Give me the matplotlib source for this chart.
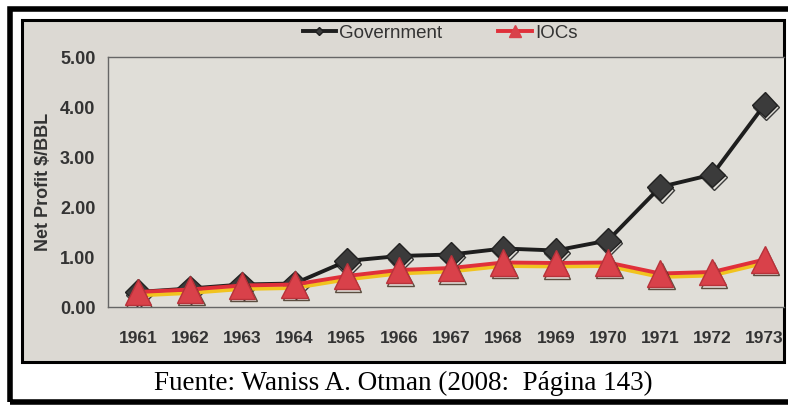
import matplotlib
matplotlib.use('Agg')
import matplotlib.pyplot as plt
import matplotlib.patheffects as pe
from matplotlib.patches import Rectangle
from matplotlib.lines import Line2D

# data
years = ['1961', '1962', '1963', '1964', '1965', '1966', '1967',
         '1968', '1969', '1970', '1971', '1972', '1973']
government = [0.30, 0.37, 0.45, 0.47, 0.92, 1.02, 1.05, 1.17, 1.13, 1.33, 2.40, 2.65, 4.05]
iocs = [0.30, 0.35, 0.43, 0.45, 0.62, 0.74, 0.78, 0.89, 0.88, 0.89, 0.67, 0.70, 0.95]
y_ticks = [0, 1, 2, 3, 4, 5]

W, H = 788, 407
fig = plt.figure(figsize=(W / 100, H / 100), dpi=100)
fig.patch.set_facecolor('white')

# outer border and inner grey frame (behind the axes)
fig.patches.append(Rectangle((10 / W, 1 - 402 / H), 790 / W, 393 / H, transform=fig.transFigure,
                             fill=False, edgecolor='black', linewidth=4, zorder=-10))
fig.patches.append(Rectangle((22 / W, 1 - 362 / H), 762 / W, 342 / H, transform=fig.transFigure,
                             facecolor='#dcd9d3', edgecolor='black', linewidth=2.2, zorder=-9))

ax = fig.add_axes([108 / W, 1 - 307 / H, 676 / W, 250 / H])
ax.set_facecolor('#e0ded8')
x = list(range(len(years)))

# Government
ax.plot(x, government, color='#1e1e1e', linewidth=2.8, zorder=2)
ax.plot(x, government, linestyle='none', marker='D', markersize=13, color='#3b3b3b',
        markeredgecolor='#222222', zorder=3,
        path_effects=[pe.SimpleLineShadow(offset=(1, -2), shadow_color='#111111', alpha=0.8),
                      pe.Normal()])

# IOCs
ax.plot(x, iocs, color='#e0303a', linewidth=2.8, zorder=4,
        path_effects=[pe.SimpleLineShadow(offset=(0, -2.5), shadow_color='#f1c31e', alpha=1),
                      pe.Normal()])
ax.plot(x, iocs, linestyle='none', marker='^', markersize=19, color='#d9414a',
        markeredgecolor='#b8323a', zorder=5,
        path_effects=[pe.SimpleLineShadow(offset=(1, -2), shadow_color='#3a2a1a', alpha=0.8),
                      pe.Normal()])

# 1961 at x=138px, 1973 at x=765px
ax.set_xlim(-0.57, 12.37)
ax.set_ylim(0, 5)
ax.set_xticks(x)
ax.set_xticklabels(years)
ax.set_yticks(y_ticks)
ax.set_yticklabels([f'{v:.2f}' for v in y_ticks])
ax.tick_params(length=0, labelsize=13, labelcolor='#333333', pad=9)
for lab in ax.get_xticklabels() + ax.get_yticklabels():
    lab.set_fontfamily('Liberation Sans')
    lab.set_fontweight('bold')
ax.tick_params(axis='x', labelsize=12.5, pad=17)

for side in ['left', 'bottom', 'top']:
    ax.spines[side].set_color('#666666')
    ax.spines[side].set_linewidth(1)
ax.spines['right'].set_visible(False)

ax.set_ylabel('Net Profit $/BBL', fontsize=13, fontweight='bold', color='#333333',
              fontfamily='Liberation Sans', labelpad=6)

# legend on top
handles = [Line2D([0], [0], color='#1e1e1e', linewidth=2.8, marker='D', markersize=4,
                  markerfacecolor='#3b3b3b'),
           Line2D([0], [0], color='#e0303a', linewidth=2.8, marker='^', markersize=8,
                  markerfacecolor='#d9414a', markeredgecolor='#d9414a')]
leg = fig.legend(handles, ['Government', 'IOCs'], loc='center', ncol=2,
                 bbox_to_anchor=(440 / W, 1 - 33 / H), frameon=False, handlelength=1.8,
                 handletextpad=0.15, columnspacing=3.0,
                 prop={'family': 'Liberation Sans', 'size': 13.5})
for t in leg.get_texts():
    t.set_color('#333333')

fig.text(403 / W, 1 - 383 / H, 'Fuente: Waniss A. Otman (2008:  Página 143)',
         ha='center', va='center', fontsize=19.5, fontfamily='Liberation Serif', color='black')

fig.savefig('out.png', dpi=100)
